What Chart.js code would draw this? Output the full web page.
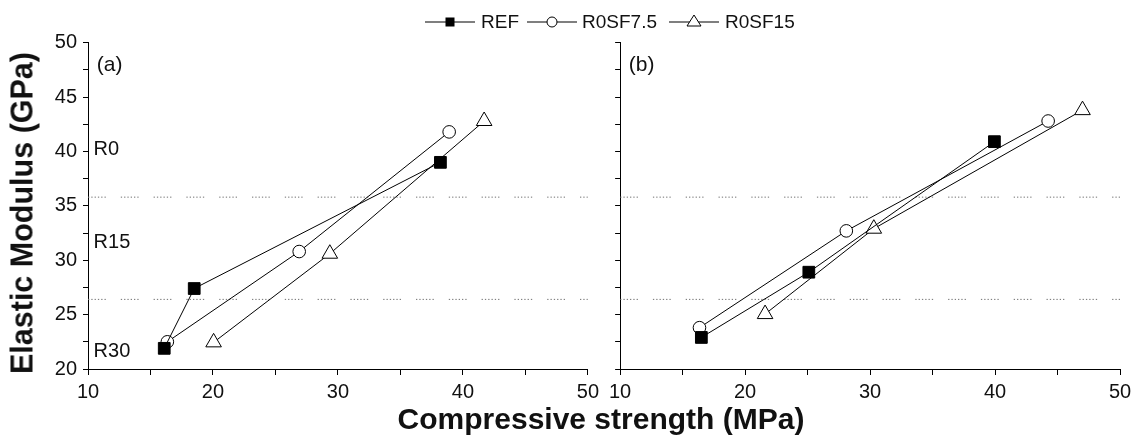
<!DOCTYPE html>
<html><head><meta charset="utf-8">
<script src="https://cdn.jsdelivr.net/npm/chart.js@4.4.0/dist/chart.umd.min.js"></script>
<style>
html,body{margin:0;padding:0;background:#fff;}
#wrap{position:relative;width:1140px;height:438px;overflow:hidden;font-family:"Liberation Sans",Arial,sans-serif;color:#111;}
#ca{position:absolute;left:0;top:0;}
#cb{position:absolute;left:604px;top:0;}
.lt{position:absolute;font-size:19px;line-height:20px;top:12px;white-space:nowrap;}
.ls{position:absolute;top:12px;}
#xt{position:absolute;left:0;width:1202px;text-align:center;top:401px;font-weight:bold;font-size:30px;line-height:35px;}
#yt{position:absolute;left:22px;top:213px;font-weight:bold;font-size:30.5px;line-height:35px;white-space:nowrap;transform:translate(-50%,-50%) rotate(-90deg);}
</style></head>
<body><div id="wrap">
<canvas id="ca" width="604" height="438"></canvas>
<canvas id="cb" width="536" height="438"></canvas>
<svg class="ls" style="left:425px" width="52" height="20"><line x1="0" y1="10" x2="50" y2="10" stroke="#000" stroke-width="1.2"/><rect x="20.5" y="5.5" width="9" height="9" fill="#000"/></svg>
<div class="lt" style="left:481px">REF</div>
<svg class="ls" style="left:527px" width="52" height="20"><line x1="0" y1="10" x2="50" y2="10" stroke="#000" stroke-width="1.2"/><circle cx="25" cy="10" r="5" fill="#fff" stroke="#000" stroke-width="1"/></svg>
<div class="lt" style="left:582px">R0SF7.5</div>
<svg class="ls" style="left:669px" width="52" height="20"><line x1="0" y1="10" x2="50" y2="10" stroke="#000" stroke-width="1.2"/><polygon points="25,3 32,14 18,14" fill="#fff" stroke="#000" stroke-width="1"/></svg>
<div class="lt" style="left:725px">R0SF15</div>
<div id="xt">Compressive strength (MPa)</div>
<div id="yt">Elastic Modulus (GPa)</div>
</div>
<script>
// ---- data ----
const seriesNames = ['REF', 'R0SF7.5', 'R0SF15'];
// panel (a)
const refA_x  = [16.1, 18.5, 38.2];
const refA_y  = [21.9, 27.4, 39.0];
const sf75A_x = [16.35, 26.9, 38.9];
const sf75A_y = [22.5, 30.8, 41.8];
const sf15A_x = [20.05, 29.35, 41.7];
const sf15A_y = [22.45, 30.6, 42.8];
// panel (b)
const refB_x  = [16.5, 25.1, 39.95];
const refB_y  = [22.9, 28.9, 40.9];
const sf75B_x = [16.35, 28.1, 44.25];
const sf75B_y = [23.8, 32.7, 42.8];
const sf15B_x = [21.6, 30.3, 47.0];
const sf15B_y = [25.05, 32.9, 43.8];
// reference class boundaries and labels
const dividerY = [35.8, 26.4];
const levelNames = ['R0', 'R15', 'R30'];
const levelY = [40.2, 31.6, 21.6];
const panelLabels = ['(a)', '(b)'];
const xRange = [10, 50];
const yRange = [20, 50];

const FONT = '"Liberation Sans", Arial, sans-serif';
const pts = (xs, ys) => xs.map((x, i) => ({x, y: ys[i]}));
const dotDash = [1.3,2, 1.3,2, 1.3,2, 1.3,2, 1.3,2, 1.3,15];

function makeDatasets(ref, s75, s15) {
  const ds = [
    {label: seriesNames[0], data: ref, pointStyle: 'rect', pointRadius: 8.3, backgroundColor: '#000', borderColor: '#000'},
    {label: seriesNames[1], data: s75, pointStyle: 'circle', pointRadius: 6.3, backgroundColor: '#fff', borderColor: '#000'},
    {label: seriesNames[2], data: s15, pointStyle: 'triangle', pointRadius: 9, backgroundColor: '#fff', borderColor: '#000'}
  ].map(d => Object.assign(d, {borderWidth: 1, pointBorderWidth: 1, pointBackgroundColor: d.backgroundColor, pointBorderColor: '#000', showLine: true, tension: 0, order: 1}));
  dividerY.forEach(v => ds.push({label: 'div', data: [{x: xRange[0], y: v}, {x: xRange[1], y: v}], borderColor: '#707070', borderWidth: 1, borderDash: dotDash, pointRadius: 0, showLine: true, order: 5}));
  return ds;
}

function textPlugin(panelIdx) {
  return {
    id: 'txt' + panelIdx,
    afterDatasetsDraw(chart) {
      const {ctx, scales: {x, y}} = chart;
      ctx.save();
      ctx.fillStyle = '#111';
      ctx.textAlign = 'left';
      ctx.textBaseline = 'middle';
      ctx.font = '21px ' + FONT;
      ctx.fillText(panelLabels[panelIdx], x.getPixelForValue(10.7), y.getPixelForValue(47.9));
      if (panelIdx === 0) {
        ctx.font = '20px ' + FONT;
        levelNames.forEach((n, i) => ctx.fillText(n, x.getPixelForValue(10.45), y.getPixelForValue(levelY[i])));
      }
      ctx.restore();
    }
  };
}

function makeChart(id, panelIdx, datasets, yWidth, padRight) {
  return new Chart(document.getElementById(id), {
    type: 'scatter',
    data: {datasets},
    plugins: [textPlugin(panelIdx)],
    options: {
      responsive: false, animation: false,
      layout: {padding: {top: 42.7, right: padRight, bottom: 0, left: 0}},
      plugins: {legend: {display: false}, tooltip: {enabled: false}},
      scales: {
        x: {
          type: 'linear', min: xRange[0], max: xRange[1],
          grid: {drawOnChartArea: false, drawTicks: true, tickLength: 6, tickColor: '#000'},
          border: {display: true, color: '#000', width: 1},
          ticks: {stepSize: 5, padding: 5, color: '#111', font: {family: FONT, size: 20},
            callback: v => (v % 10 === 0 ? String(v) : '')},
          afterFit: s => { s.height = 69; }
        },
        y: {
          type: 'linear', min: yRange[0], max: yRange[1],
          grid: {drawOnChartArea: false, drawTicks: true, tickLength: 5, tickColor: '#000'},
          border: {display: true, color: '#000', width: 1},
          ticks: {stepSize: 2.5, padding: 6, color: '#111', font: {family: FONT, size: 20},
            callback: v => (panelIdx === 0 && v % 5 === 0 ? String(v) : '')},
          afterFit: s => { s.width = yWidth; }
        }
      }
    }
  });
}

makeChart('ca', 0, makeDatasets(pts(refA_x, refA_y), pts(sf75A_x, sf75A_y), pts(sf15A_x, sf15A_y)), 88, 14);
makeChart('cb', 1, makeDatasets(pts(refB_x, refB_y), pts(sf75B_x, sf75B_y), pts(sf15B_x, sf15B_y)), 13.3, 20);
</script>
</body></html>
